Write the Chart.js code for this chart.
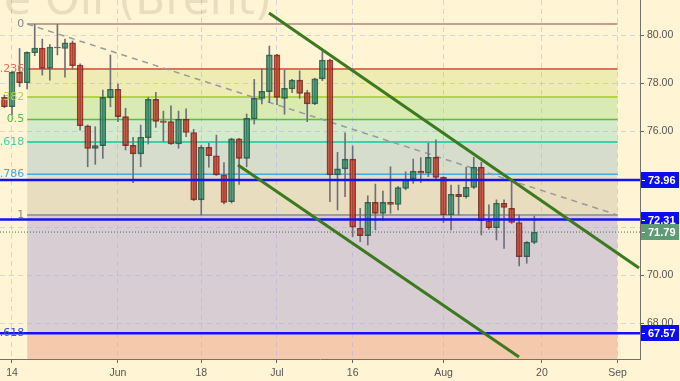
<!DOCTYPE html>
<html>
<head>
<meta charset="utf-8">
<script src="https://cdn.jsdelivr.net/npm/chart.js@4.4.1/dist/chart.umd.min.js"></script>
<style>
  html, body { margin: 0; padding: 0; background: #fff4d3; }
  #wrap { width: 680px; height: 381px; position: relative; }
</style>
</head>
<body>
<div id="wrap"><canvas id="brentChart"></canvas></div>
<script>
// daily candles, trading-day index (0 = May 14), first candle is May 11
var firstIndex = -1;
var opens  = [77.40, 77.01, 78.45, 78.01, 79.26, 79.46, 78.61, 79.50, 79.44, 79.68,
              78.75, 76.22, 75.28, 75.39, 77.39, 77.74, 76.60, 75.40, 75.05, 75.72,
              77.32, 76.42, 76.39, 75.46, 76.49, 75.94, 73.13, 75.32, 74.97, 74.17,
              73.06, 75.67, 74.86, 76.50, 77.36, 77.64, 79.17, 77.36, 77.75, 78.12,
              77.60, 77.13, 78.17, 78.96, 74.17, 74.42, 74.83, 71.95, 71.64, 73.03,
              72.57, 73.03, 72.94, 73.61, 74.00, 74.33, 74.24, 74.90, 74.07, 72.50,
              73.36, 73.26, 73.65, 74.49, 72.26, 71.97, 72.99, 72.78, 72.19, 70.76,
              71.36];
var highs  = [77.50, 78.50, 79.44, 79.30, 80.45, 79.83, 79.60, 80.45, 79.83, 79.75,
              78.80, 76.25, 76.18, 77.71, 79.17, 77.96, 76.95, 75.74, 76.25, 77.40,
              77.61, 76.83, 77.05, 76.83, 76.92, 76.07, 75.40, 75.49, 75.83, 74.68,
              75.70, 75.70, 76.71, 78.15, 78.61, 79.54, 79.20, 78.54, 78.15, 78.51,
              77.70, 78.20, 79.31, 79.00, 75.11, 75.93, 75.38, 72.78, 73.30, 73.79,
              73.50, 74.51, 73.70, 74.30, 74.83, 74.89, 75.49, 75.63, 74.10, 73.75,
              73.75, 74.49, 74.90, 74.70, 72.92, 73.13, 73.13, 73.89, 72.50, 71.40,
              72.46];
var lows   = [76.97, 76.67, 77.85, 77.75, 79.14, 78.33, 78.12, 79.17, 78.24, 78.58,
              76.04, 74.51, 74.61, 74.86, 77.01, 76.39, 75.21, 73.85, 74.51, 75.46,
              76.15, 75.56, 75.44, 75.28, 75.76, 73.10, 72.50, 74.49, 74.15, 72.96,
              73.00, 73.78, 74.51, 76.29, 77.13, 77.18, 77.10, 76.70, 77.60, 77.36,
              76.39, 77.10, 78.10, 73.06, 72.71, 73.26, 71.60, 71.39, 71.25, 71.88,
              72.29, 72.57, 72.71, 73.55, 73.82, 73.85, 74.10, 74.00, 72.18, 71.88,
              72.50, 73.20, 73.60, 71.67, 71.90, 71.46, 71.11, 72.15, 70.38, 70.49,
              71.30];
var closes = [77.01, 78.45, 78.01, 79.28, 79.46, 78.61, 79.50, 79.46, 79.68, 78.72,
              76.22, 75.28, 75.39, 77.40, 77.74, 76.60, 75.39, 75.05, 75.74, 77.32,
              76.40, 76.36, 75.46, 76.49, 75.94, 73.13, 75.32, 74.97, 74.17, 73.03,
              75.67, 74.86, 76.53, 77.36, 77.65, 79.17, 77.40, 77.78, 78.12, 77.57,
              77.13, 78.17, 78.96, 74.17, 74.42, 74.83, 71.99, 71.64, 73.03, 72.57,
              73.03, 72.94, 73.64, 73.96, 74.33, 74.24, 74.90, 74.07, 72.50, 73.36,
              73.26, 73.65, 74.49, 72.26, 71.97, 72.99, 72.82, 72.19, 70.76, 71.36,
              71.79];

var tickIndex  = [0, 14, 25, 35, 45, 57, 70, 80];
var tickLabels = ['14', 'Jun', '18', 'Jul', '16', 'Aug', '20', 'Sep'];

// fibonacci retracement drawn from the May high to the late-June low
var fibHigh = 80.46;
var fibLow = 72.50;
var fibStart = 2;
var fibEnd = 80;
var fibRatios = [0, 0.236, 0.382, 0.5, 0.618, 0.786, 1, 1.618];
var fibNames  = ['0', '0.236', '0.382', '0.5', '0.618', '0.786', '1', '1.618'];

var levelLines = [73.96, 72.31, 67.57];
var lastPrice = 71.79;

var channelUpper = [{x: 33.95, y: 80.92}, {x: 82.83, y: 70.29}];
var channelLower = [{x: 29.85, y: 74.58}, {x: 66.98, y: 66.58}];

var xMin = -1.585, xMax = 82.96;
var yMin = 66.5, yMax = 81.46;

var fibLineColors = ['#c4a292', '#e0705a', '#b4d444', '#4cc43c', '#44ccaa', '#48a8e0', '#9c9c9c', '#3050e0'];
var fibLineWidths = [2, 2, 2, 1.5, 2, 1.5, 2, 1.5];
var zoneColors = ['#f5c9ab', '#eeebb3', '#d9eab3', '#d5e9cb', '#d6ddcd', '#e9ddc0', '#d8cdd3', '#f5c9ab'];

function fibPrice(r) {
  return fibHigh - r * (fibHigh - fibLow);
}

var datasets = [];

fibRatios.forEach(function (r, i) {
  var p = fibPrice(r);
  datasets.push({
    type: 'line',
    data: [{x: fibStart, y: p}, {x: fibEnd, y: p}],
    borderColor: fibLineColors[i],
    borderWidth: fibLineWidths[i],
    pointRadius: 0,
    fill: i === 0 ? false : '-1',
    backgroundColor: i === 0 ? 'transparent' : zoneColors[i - 1],
    order: 10
  });
});
// bottom edge of the last zone
datasets.push({
  type: 'line',
  data: [{x: fibStart, y: yMin}, {x: fibEnd, y: yMin}],
  borderWidth: 0,
  pointRadius: 0,
  fill: '-1',
  backgroundColor: zoneColors[7],
  order: 10
});

// dashed diagonal of the fib box
datasets.push({
  type: 'line',
  data: [{x: fibStart, y: fibHigh}, {x: fibEnd, y: fibLow}],
  borderColor: '#9a9a9a',
  borderWidth: 1.5,
  borderDash: [6, 5],
  pointRadius: 0,
  fill: false,
  order: 9
});

var bull = closes.map(function (c, i) { return c >= opens[i]; });

datasets.push({
  type: 'bar',
  data: highs.map(function (h, i) { return {x: firstIndex + i, y: [lows[i], h]}; }),
  barThickness: 1,
  backgroundColor: '#70707c',
  grouped: false,
  order: 8
});
datasets.push({
  type: 'bar',
  data: opens.map(function (o, i) { return {x: firstIndex + i, y: [o, closes[i]]}; }),
  barThickness: 6,
  minBarLength: 1,
  backgroundColor: bull.map(function (b) { return b ? 'rgba(25,135,95,0.6)' : 'rgba(200,40,20,0.65)'; }),
  borderColor: bull.map(function (b) { return b ? 'rgba(30,75,55,0.8)' : 'rgba(100,30,20,0.8)'; }),
  borderWidth: 1,
  borderSkipped: false,
  grouped: false,
  order: 7
});

levelLines.forEach(function (v) {
  datasets.push({
    type: 'line',
    data: [{x: xMin, y: v}, {x: xMax, y: v}],
    borderColor: '#1212f2',
    borderWidth: 2.5,
    pointRadius: 0,
    fill: false,
    order: 5
  });
});

datasets.push({
  type: 'line',
  data: [{x: xMin, y: lastPrice}, {x: xMax, y: lastPrice}],
  borderColor: '#3a7a50',
  borderWidth: 1,
  borderDash: [1, 2],
  pointRadius: 0,
  fill: false,
  order: 4
});

[channelUpper, channelLower].forEach(function (pts) {
  datasets.push({
    type: 'line',
    data: pts,
    borderColor: '#3b7a1e',
    borderWidth: 3,
    pointRadius: 0,
    fill: false,
    order: 3
  });
});

var labelsPlugin = {
  id: 'labels',
  beforeDatasetsDraw: function (chart) {
    var ctx = chart.ctx;
    ctx.save();
    ctx.font = '44px "DejaVu Sans"';
    ctx.fillStyle = 'rgba(120,110,85,0.17)';
    ctx.textAlign = 'right';
    ctx.textBaseline = 'alphabetic';
    ctx.fillText('Crude Oil (Brent)', 272, 14);
    ctx.restore();
  },
  afterDraw: function (chart) {
    var ctx = chart.ctx;
    var xs = chart.scales.x, ys = chart.scales.y;
    ctx.save();
    ctx.font = '11px "DejaVu Sans"';
    ctx.textAlign = 'right';
    ctx.textBaseline = 'middle';
    var lx = xs.getPixelForValue(fibStart) - 3;
    fibRatios.forEach(function (r, i) {
      ctx.fillStyle = fibLineColors[i];
      if (i === 0 || i === 6) ctx.fillStyle = '#8a8a8a';
      ctx.fillText(fibNames[i], lx, ys.getPixelForValue(fibPrice(r)));
    });

    // price boxes on the right axis
    var boxes = levelLines.map(function (v) { return {v: v, c: '#0c0cf0'}; });
    boxes.push({v: lastPrice, c: '#5f9c76'});
    ctx.font = 'bold 11px "Liberation Sans"';
    ctx.textAlign = 'left';
    boxes.forEach(function (b) {
      var y = Math.round(ys.getPixelForValue(b.v));
      ctx.fillStyle = b.c;
      ctx.fillRect(641, y - 8, 38, 16);
      ctx.fillStyle = '#ffffff';
      ctx.fillRect(642, y, 3, 1);
      ctx.fillText(b.v.toFixed(2), 648, y + 1);
    });
    ctx.restore();
  }
};

var axisFont = {family: '"Liberation Sans"', size: 10.5};

new Chart(document.getElementById('brentChart'), {
  type: 'bar',
  data: {datasets: datasets},
  options: {
    responsive: true,
    maintainAspectRatio: false,
    animation: false,
    layout: {padding: 0},
    plugins: {
      legend: {display: false},
      tooltip: {enabled: false},
      filler: {drawTime: 'beforeDraw', propagate: false}
    },
    scales: {
      x: {
        type: 'linear',
        min: xMin,
        max: xMax,
        offset: false,
        afterBuildTicks: function (scale) {
          scale.ticks = tickIndex.map(function (v) { return {value: v}; });
        },
        afterFit: function (scale) {
          scale.height = 22;
          scale.paddingLeft = 0;
          scale.paddingRight = 0;
        },
        ticks: {
          autoSkip: false,
          maxRotation: 0,
          padding: 4,
          color: '#555555',
          font: axisFont,
          callback: function (v) { return tickLabels[tickIndex.indexOf(v)]; }
        },
        grid: {
          offset: false,
          color: 'rgba(175,175,230,0.5)',
          tickColor: '#666666',
          tickLength: 4
        },
        border: {color: '#707070', width: 1, dash: [5, 4]}
      },
      y: {
        type: 'linear',
        position: 'right',
        min: yMin,
        max: yMax,
        afterFit: function (scale) {
          scale.width = 40;
          scale.paddingTop = 0;
          scale.paddingBottom = 0;
        },
        ticks: {
          stepSize: 2,
          includeBounds: false,
          padding: 3,
          color: '#555555',
          font: axisFont,
          callback: function (v) { return v.toFixed(2); }
        },
        grid: {
          offset: false,
          color: 'rgba(175,175,230,0.5)',
          tickColor: '#666666',
          tickLength: 4
        },
        border: {color: '#707070', width: 1, dash: [5, 4]}
      }
    }
  },
  plugins: [labelsPlugin]
});
</script>
</body>
</html>
